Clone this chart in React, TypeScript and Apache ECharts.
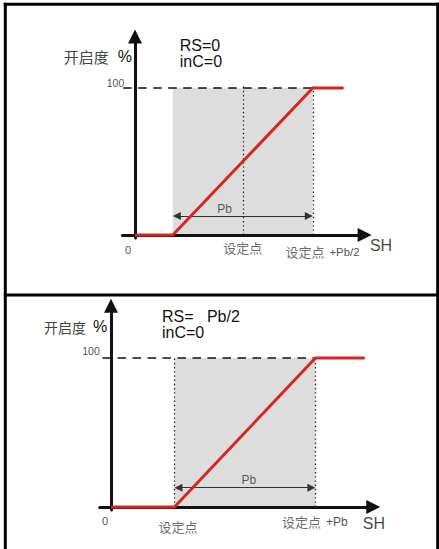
import { useEffect, useRef } from 'react';
import * as echarts from 'echarts';

// ---------------- data (schematic units: Pb = 100 on SH axis, opening 0–100 %) ----------------
const pb = 100;
const fullOpen = 100;
const yRange = [-2, 135];

// Panel 1: RS = 0, inC = 0  (band centred on the setpoint)
const p1Setpoint = 77;
const p1Curve: number[][] = [[0, 0], [27, 0], [127, 100], [149, 100]];
const p1XRange = [-9, 164];
const p1RefStart = -12;

// Panel 2: RS = Pb/2, inC = 0  (band starts at the setpoint)
const p2Setpoint = 45;
const p2Curve: number[][] = [[0, 0], [45, 0], [145, 100], [180, 100]];
const p2XRange = [-8, 186];
const p2RefStart = -11;

const p1Notes = ['RS=0', 'inC=0'];
const p2Notes = ['RS=   Pb/2', 'inC=0'];
const yName = ['开启度', '%'];
const xName = 'SH';
const yTickLabels = ['0', '100'];
const setpointLabel = '设定点';
const p1EndSuffix = '+Pb/2';
const p2EndSuffix = '+Pb';
const bandLabel = 'Pb';
const pbArrowLevel = 13;

// ---------------- styling ----------------
const LATIN = '"Liberation Sans", Arial, sans-serif';
const CJK = '"Noto Sans CJK SC", sans-serif';
const AXIS = '#111111';
const RED = '#d7261e';
const BAND = '#dddddd';

function buildPanel(p: any) {
  const i = p.index;
  const bandStart = p.bandStart;
  const bandEnd = p.bandEnd;
  const inset = 4 / p.pxPerUnit;
  const rich = {
    c: { fontFamily: CJK, fontSize: p.cjkSize, color: '#444', textBorderWidth: 0 },
    n: { fontFamily: LATIN, fontSize: p.suffixSize, color: '#222', padding: [0, 0, 0, 5], textBorderWidth: 0 },
  };
  const labels = [
    { at: [0, 0], text: yTickLabels[0], offset: p.zeroOff, size: 11, color: '#222' },
    { at: [0, fullOpen], text: yTickLabels[1], offset: p.hundredOff, size: 10.5, color: '#222' },
    { at: [p.setpoint, 0], text: `{c|${setpointLabel}}`, offset: p.spOff, size: 12, color: '#222' },
    { at: [bandEnd, 0], text: `{c|${setpointLabel}}{n|${p.endSuffix}}`, offset: p.endOff, size: 12, color: '#222' },
    { at: [(bandStart + bandEnd) / 2, pbArrowLevel], text: bandLabel, offset: p.pbOff, size: 12, color: '#333' },
    { at: [p.xRange[1], 0], text: xName, offset: p.shOff, size: 16, color: AXIS },
  ];
  const series: any[] = [
    {
      type: 'line', xAxisIndex: i, yAxisIndex: i, data: [], z: 1, silent: true,
      markArea: {
        silent: true, itemStyle: { color: BAND },
        data: [[{ coord: [bandStart, 0] }, { coord: [bandEnd, fullOpen] }]],
      },
    },
    {
      type: 'line', xAxisIndex: i, yAxisIndex: i, z: 2, silent: true, clip: false,
      symbol: 'none',
      data: [[p.refStart, fullOpen], [bandEnd, fullOpen]],
      lineStyle: { color: AXIS, width: 1.3, type: [8.5, 6.5], dashOffset: p.dashOffset },
    },
    {
      type: 'line', xAxisIndex: i, yAxisIndex: i, data: [], z: 2, silent: true,
      markLine: {
        silent: true, symbol: ['none', 'none'], label: { show: false },
        lineStyle: { color: '#222', width: 1.3, type: [1.4, 2.8] },
        data: p.dotted.map((x: number) => [{ coord: [x, 0] }, { coord: [x, fullOpen + 1.5] }]),
      },
    },
    {
      type: 'line', xAxisIndex: i, yAxisIndex: i, data: [], z: 4, silent: true,
      markLine: {
        silent: true, symbol: ['triangle', 'triangle'], symbolSize: 8,
        label: { show: false },
        lineStyle: { color: '#333', width: 1.2, type: 'solid' },
        itemStyle: { color: '#333' },
        data: [[{ coord: [bandStart + inset, pbArrowLevel] }, { coord: [bandEnd - inset, pbArrowLevel] }]],
      },
    },
    {
      type: 'line', xAxisIndex: i, yAxisIndex: i, z: 5, silent: true, clip: false,
      symbol: 'none', data: p.curve,
      lineStyle: { color: RED, width: 3 },
    },
    {
      type: 'scatter', xAxisIndex: i, yAxisIndex: i, z: 6, silent: true, clip: false,
      symbolSize: 1, itemStyle: { color: 'rgba(0,0,0,0)' },
      label: {
        show: true, position: 'inside', align: 'center', verticalAlign: 'middle',
        fontFamily: LATIN, color: '#222', textBorderWidth: 0, textShadowBlur: 0, rich,
      },
      data: labels.map((l) => ({
        value: l.at,
        label: { formatter: l.text, offset: l.offset, fontSize: l.size, color: l.color, textBorderWidth: 0, rich },
      })),
    },
  ];
  const xAxis = {
    gridIndex: i, type: 'value', min: p.xRange[0], max: p.xRange[1], z: 3,
    axisLine: { show: true, onZero: true, symbol: ['none', 'triangle'], symbolSize: [14, 14], lineStyle: { color: AXIS, width: 3 } },
    axisTick: { show: false }, axisLabel: { show: false }, splitLine: { show: false },
  };
  const yAxis = {
    gridIndex: i, type: 'value', min: yRange[0], max: yRange[1], z: 3,
    axisLine: { show: true, onZero: true, symbol: ['none', 'triangle'], symbolSize: [14, 14], lineStyle: { color: AXIS, width: 3 } },
    axisTick: { show: false }, axisLabel: { show: false }, splitLine: { show: false },
    name: `{a|${yName[0]}}{b|${yName[1]}}`, nameLocation: 'end', nameGap: p.yNameGap,
    nameTextStyle: {
      align: 'right', verticalAlign: 'middle', padding: [0, p.yNamePad, 0, 0],
      rich: {
        a: { fontFamily: CJK, fontSize: p.yCjkSize, color: '#444' },
        b: { fontFamily: LATIN, fontSize: 16, color: AXIS, padding: [0, 0, 0, p.pctGap] },
      },
    },
  };
  const title = {
    text: p.notes.join('\n'), left: p.noteLeft, top: p.noteTop, padding: 0,
    textStyle: { fontFamily: LATIN, fontSize: 16, fontWeight: 'normal', color: AXIS, lineHeight: 16 },
  };
  return { grid: { ...p.grid, containLabel: false, outerBoundsMode: 'none' }, xAxis, yAxis, series, title };
}

export default function App() {
  const ref = useRef<HTMLDivElement>(null);
  useEffect(() => {
    if (!ref.current) return;
    const chart = echarts.init(ref.current, undefined, { renderer: 'svg' });
    const panels = [
      buildPanel({
        index: 0, grid: { left: 122.4, top: 36.55, width: 242.2, height: 201.4 }, pxPerUnit: 1.4,
        xRange: p1XRange, curve: p1Curve, setpoint: p1Setpoint,
        bandStart: p1Setpoint - pb / 2, bandEnd: p1Setpoint + pb / 2,
        dotted: [p1Setpoint, p1Setpoint + pb / 2], refStart: p1RefStart, dashOffset: 9.7,
        notes: p1Notes, noteLeft: 179.8, noteTop: 37.2, endSuffix: p1EndSuffix,
        cjkSize: 13, suffixSize: 11.4,
        zeroOff: [-7, 14.5], hundredOff: [-19.5, -5.5], spOff: [0, 12], endOff: [9.7, 16.5], pbOff: [-18.3, -7.2],
        shOff: [16.4, 10.3], yNameGap: -20, yNamePad: 3, yCjkSize: 15, pctGap: 9,
      }),
      buildPanel({
        index: 1, grid: { left: 99.72, top: 305.85, width: 273.54, height: 204.13 }, pxPerUnit: 1.41,
        xRange: p2XRange, curve: p2Curve, setpoint: p2Setpoint,
        bandStart: p2Setpoint, bandEnd: p2Setpoint + pb,
        dotted: [p2Setpoint, p2Setpoint + pb], refStart: p2RefStart, dashOffset: 8.3,
        notes: p2Notes, noteLeft: 162, noteTop: 308.5, endSuffix: p2EndSuffix,
        cjkSize: 13, suffixSize: 12,
        zeroOff: [-6, 13.8], hundredOff: [-20, -7], spOff: [3.5, 19.7], endOff: [-0.5, 14.7], pbOff: [4, -8],
        shOff: [0.7, 16.8], yNameGap: -21, yNamePad: 3.7, yCjkSize: 14, pctGap: 7,
      }),
    ];
    const frame = [
      { type: 'line', shape: { x1: 3.8, y1: 4.3, x2: 439, y2: 4.3 } },
      { type: 'line', shape: { x1: 5.3, y1: 2.8, x2: 5.3, y2: 549 } },
      { type: 'line', shape: { x1: 437.7, y1: 2.8, x2: 437.7, y2: 549 } },
      { type: 'line', shape: { x1: 3.8, y1: 295, x2: 439, y2: 295 } },
    ].map((g) => ({ ...g, silent: true, z: 100, style: { stroke: '#000', lineWidth: 3 } }));
    chart.setOption({
      animation: false,
      backgroundColor: '#ffffff',
      title: panels.map((p) => p.title),
      grid: panels.map((p) => p.grid),
      xAxis: panels.map((p) => p.xAxis),
      yAxis: panels.map((p) => p.yAxis),
      series: panels.flatMap((p) => p.series),
      graphic: frame,
    });
    return () => chart.dispose();
  }, []);
  return <div ref={ref} style={{ position: 'absolute', left: 0, top: 0, width: 439, height: 549 }} />;
}
